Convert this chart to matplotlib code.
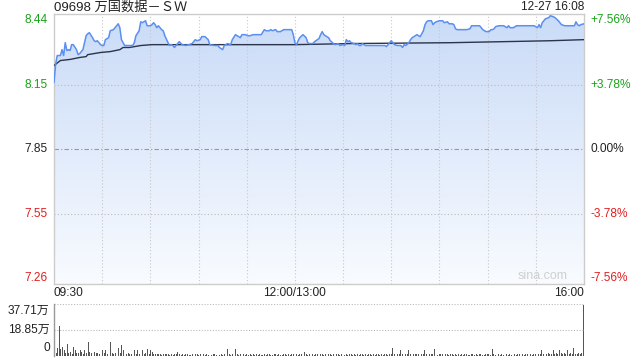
import matplotlib
matplotlib.use("Agg")
import matplotlib.pyplot as plt
import numpy as np
from matplotlib.patches import Polygon

plt.rcParams['font.family'] = ['Liberation Sans', 'Noto Sans CJK SC', 'DejaVu Sans']

title = "09698 万国数据－ＳＷ"
stamp = "12-27 16:08"
prev_close = 7.85

# minute index since 09:30 (trading minutes, lunch removed)
minutes = [0, 1, 2, 4, 5, 6, 7, 8, 9, 10, 11, 12, 14, 15, 16, 18, 20, 21, 22, 24, 25, 26, 27, 29, 30, 31,
           32, 34, 35, 37, 38, 39, 40, 41, 42, 44, 45, 47, 49, 50, 51, 53, 54, 55, 57, 58, 59, 60, 61, 62,
           63, 64, 65, 66, 67, 68, 69, 71, 72, 73, 74, 75, 76, 78, 79, 80, 82, 84, 86, 88, 89, 91, 92, 94,
           96, 97, 100, 102, 103, 105, 106, 108, 110, 111, 113, 114, 115, 116, 117, 119, 121, 122, 124,
           126, 129, 131, 132, 134, 135, 136, 138, 139, 141, 143, 145, 148, 149, 150, 151, 152, 153, 155,
           157, 158, 159, 161, 163, 165, 166, 167, 168, 169, 171, 172, 174, 175, 177, 178, 180, 181, 182,
           183, 184, 185, 187, 188, 189, 190, 191, 192, 193, 194, 198, 201, 206, 207, 208, 210, 211, 212,
           214, 216, 217, 218, 219, 221, 222, 223, 225, 226, 227, 228, 230, 231, 232, 233, 235, 236, 237,
           238, 240, 242, 243, 245, 246, 248, 249, 250, 251, 254, 257, 259, 260, 262, 265, 266, 267, 268,
           269, 271, 272, 273, 274, 275, 277, 279, 280, 282, 283, 284, 286, 288, 290, 293, 296, 299, 301,
           302, 303, 304, 306, 308, 309, 311, 312, 314, 315, 316, 318, 321, 324, 325, 326, 327, 328, 330]
prices = [8.156, 8.239, 8.280, 8.280, 8.307, 8.280, 8.339, 8.303, 8.307, 8.303, 8.330, 8.330, 8.307, 8.284,
          8.289, 8.307, 8.371, 8.380, 8.385, 8.362, 8.348, 8.344, 8.348, 8.330, 8.326, 8.326,
          8.353, 8.362, 8.394, 8.399, 8.408, 8.417, 8.426, 8.408, 8.353, 8.326, 8.326, 8.326, 8.326, 8.339,
          8.371, 8.394, 8.435, 8.431, 8.440, 8.417, 8.417, 8.417, 8.422, 8.431,
          8.422, 8.408, 8.417, 8.408, 8.399, 8.394, 8.371, 8.339, 8.326, 8.330, 8.326, 8.317, 8.326, 8.344,
          8.335, 8.330, 8.326, 8.330, 8.335, 8.353, 8.348, 8.353, 8.367, 8.367,
          8.353, 8.330, 8.326, 8.326, 8.317, 8.307, 8.326, 8.335, 8.330, 8.353, 8.376, 8.371, 8.367, 8.362,
          8.376, 8.376, 8.371, 8.371, 8.376,
          8.376, 8.376, 8.399, 8.394, 8.394, 8.399, 8.394, 8.399, 8.390, 8.390, 8.399, 8.399, 8.399, 8.376,
          8.339, 8.330, 8.348, 8.362, 8.376,
          8.362, 8.339, 8.335, 8.335, 8.348, 8.358, 8.376, 8.390, 8.376, 8.371, 8.362, 8.348, 8.335, 8.330,
          8.335, 8.326, 8.330, 8.326, 8.353,
          8.344, 8.348, 8.339, 8.335, 8.330, 8.335, 8.326, 8.326, 8.335, 8.330, 8.326, 8.326, 8.326, 8.326,
          8.321, 8.330, 8.348, 8.339, 8.330,
          8.326, 8.326, 8.317, 8.330, 8.326, 8.339, 8.353, 8.362, 8.371, 8.376, 8.371, 8.367, 8.394, 8.422,
          8.435, 8.440, 8.440, 8.422, 8.431,
          8.435, 8.440, 8.440, 8.431, 8.435, 8.426, 8.426, 8.422, 8.403, 8.399, 8.399, 8.399, 8.403, 8.417,
          8.417, 8.417, 8.408, 8.399, 8.394,
          8.390, 8.390, 8.399, 8.399, 8.403, 8.413, 8.417, 8.417, 8.417, 8.408, 8.417, 8.408, 8.408, 8.417,
          8.417, 8.417, 8.417, 8.417, 8.408,
          8.422, 8.408, 8.431, 8.449, 8.454, 8.463, 8.458, 8.454, 8.440, 8.431, 8.422, 8.417, 8.417, 8.417,
          8.435, 8.422, 8.417, 8.422, 8.426]

avg_minutes = [0, 4, 10, 16, 20, 21, 29, 35, 41, 43, 47, 54, 61, 120, 150, 185, 247, 309, 330]
avg_prices = [8.234, 8.257, 8.262, 8.271, 8.275, 8.284, 8.294, 8.298, 8.307, 8.317, 8.317, 8.326, 8.330,
              8.330, 8.330, 8.335, 8.339, 8.348, 8.353]

volumes = [15.2, 2.5, 5.8, 21.8, 5.0, 6.5, 4.4, 2.2, 8.7, 2.0,
           3.0, 1.8, 6.5, 4.0, 2.4, 1.9, 4.0, 2.6, 1.7, 4.0,
           2.2, 10.0, 3.0, 2.1, 1.6, 2.8, 1.9, 2.3, 1.5, 2.0,
           4.4, 2.1, 4.0, 1.8, 2.5, 10.0, 2.2, 1.6, 2.0, 4.0,
           6.0, 2.4, 8.0, 4.0, 1.9, 1.5, 2.2, 1.7, 1.4, 2.0,
           4.0, 1.6, 4.0, 1.8, 2.1, 4.0, 1.5, 1.9, 5.0, 1.6,
           4.0, 3.0, 1.4, 1.2, 1.6, 1.1, 1.3, 1.0, 1.5, 1.2,
           1.1, 1.4, 0.9, 1.2, 1.0, 1.3, 1.1, 3.0, 1.4, 1.0,
           1.2, 0.9, 1.1, 1.3, 1.0, 0.8, 1.2, 1.0, 1.4, 1.1,
           0.9, 1.2, 1.0, 1.3, 0.8, 1.1, 1.0, 1.2, 0.9, 1.5,
           1.1, 1.0, 1.3, 0.9, 1.2, 1.0, 1.4, 1.1, 5.0, 1.2,
           1.0, 1.3, 0.9, 5.0, 1.2, 1.0, 1.1, 0.9, 1.3, 1.0,
           1.2, 0.8, 1.1, 1.0, 1.4, 0.9, 1.2, 1.0, 1.1, 0.8,
           1.0, 1.3, 0.9, 1.1, 1.2, 0.8, 1.0, 1.4, 1.1, 0.9,
           1.2, 1.0, 0.8, 1.3, 1.1, 1.0, 1.5, 0.9, 1.2, 1.8,
           1.4, 1.2, 1.0, 1.5, 1.1, 1.3, 3.0, 1.2, 1.0, 1.4,
           1.1, 1.3, 0.9, 1.2, 1.5, 1.0, 1.1, 1.3, 0.9, 1.2,
           1.0, 1.4, 1.1, 0.9, 1.2, 1.0, 1.3, 1.1, 0.8, 1.2,
           1.5, 1.0, 1.2, 0.9, 1.1, 1.3, 1.0, 1.2, 0.9, 1.1,
           1.0, 1.3, 1.1, 0.9, 1.2, 1.0, 1.4, 1.1, 0.9, 1.2,
           1.0, 1.1, 1.3, 0.9, 1.2, 1.0, 1.1, 1.4, 1.0, 1.5,
           1.2, 6.0, 1.3, 1.1, 1.5, 1.2, 4.0, 1.4, 1.0, 1.6,
           1.3, 4.0, 1.2, 1.5, 1.1, 1.3, 1.6, 1.2, 1.0, 1.4,
           1.2, 4.0, 1.5, 1.3, 1.1, 1.4, 1.2, 5.0, 1.3, 1.0,
           1.2, 1.4, 1.1, 1.0, 1.3, 1.2, 0.9, 1.1, 1.3, 1.0,
           1.2, 1.0, 1.1, 0.9, 1.3, 1.0, 1.2, 1.1, 0.8, 1.0,
           1.2, 1.1, 0.9, 1.3, 1.0, 1.2, 1.1, 0.9, 1.0, 1.2,
           1.1, 1.3, 1.0, 5.0, 1.2, 1.0, 1.4, 1.1, 0.9, 1.2,
           1.0, 1.1, 1.3, 0.9, 1.2, 1.0, 1.1, 1.4, 1.0, 1.2,
           1.1, 0.9, 1.3, 1.0, 1.2, 1.5, 1.1, 1.3, 1.0, 1.4,
           1.2, 1.6, 1.3, 1.5, 4.0, 1.8, 7.0, 1.4, 2.0, 1.5,
           1.8, 4.0, 1.6, 2.2, 1.5, 4.0, 1.9, 1.4, 2.1, 1.7,
           4.0, 1.6, 2.0, 1.5, 6.0, 1.8, 1.4, 2.2, 1.6, 1.9,
           37.0]

price_ticks = [8.44, 8.15, 7.85, 7.55, 7.26]
price_tick_labels = ["8.44", "8.15", "7.85", "7.55", "7.26"]
pct_labels = ["+7.56%", "+3.78%", "0.00%", "-3.78%", "-7.56%"]
tick_colors = ["#1aa31a", "#1aa31a", "#222222", "#e02020", "#e02020"]
vol_ticks = [0, 18.85, 37.71]
vol_labels = ["0", "18.85万", "37.71万"]
x_labels = ["09:30", "12:00/13:00", "16:00"]

FS = 8.6

W, H = 640, 360
fig = plt.figure(figsize=(6.4, 3.6), dpi=100)
fig.patch.set_facecolor("white")

ax = fig.add_axes([54 / W, 1 - 284 / H, 530 / W, 270 / H])
vax = fig.add_axes([54 / W, 1 - 356 / H, 530 / W, 52 / H])

step = 0.0046 * 258 / 4
ymax = prev_close + 2 * step + 6 * 0.0046
ymin = prev_close - 2 * step - 6 * 0.0046
ax.set_xlim(0, 330)
ax.set_ylim(ymin, ymax)

x = np.array(minutes, dtype=float)
y = np.array(prices)

# gradient fill under price
grad = np.linspace(0, 1, 256).reshape(-1, 1)
top_c = np.array([0.79, 0.86, 0.97])
bot_c = np.array([0.975, 0.985, 1.0])
img = top_c * (1 - grad[..., None]) + bot_c * grad[..., None]
img = img.reshape(256, 1, 3)
im = ax.imshow(img, extent=[0, 330, ymin, ymax], aspect="auto", origin="upper", zorder=1)
poly = Polygon(np.column_stack([np.r_[x[0], x, x[-1]], np.r_[ymin, y, ymin]]), closed=True,
               facecolor="none", edgecolor="none")
ax.add_patch(poly)
im.set_clip_path(poly)

# grid
pos_ticks = [prev_close + 2 * step, prev_close + step, prev_close, prev_close - step, prev_close - 2 * step]
for t in pos_ticks[1:4]:
    if t == prev_close:
        ax.axhline(t, color="#999999", lw=0.8, ls=(0, (4, 2, 1, 2)), zorder=2)
    else:
        ax.axhline(t, color="#bbbbbb", lw=0.8, ls=(0, (1, 2)), zorder=2)
for k in range(1, 11):
    ax.axvline(k * 30, color="#c8c8c8", lw=0.8, ls=(0, (1, 2)), zorder=2)

ax.plot(x, y, color="#5b8ff0", lw=1.1, zorder=4)
ax.plot(avg_minutes, avg_prices, color="#2b3448", lw=1.0, zorder=3)

ax.set_xticks([])
ax.set_yticks([])
for s in ax.spines.values():
    s.set_color("#cccccc")
    s.set_linewidth(1.0)

for t, lab, pl, c in zip(pos_ticks, price_tick_labels, pct_labels, tick_colors):
    ax.text(-4, t, lab, color=c, fontsize=FS, ha="right", va="center", transform=ax.transData, clip_on=False)
    ax.text(334, t, pl, color=c, fontsize=FS, ha="left", va="center", transform=ax.transData, clip_on=False)

ax.text(0, -0.035, x_labels[0], transform=ax.transAxes, ha="left", va="center", fontsize=FS, color="#222222")
ax.text(150, -0.035, x_labels[1], transform=ax.get_xaxis_transform(), ha="center", va="center", fontsize=FS, color="#222222")
ax.text(1, -0.035, x_labels[2], transform=ax.transAxes, ha="right", va="center", fontsize=FS, color="#222222")

ax.text(0, 1.025, title, transform=ax.transAxes, ha="left", va="center", fontsize=9.5, color="#222222")
ax.text(1, 1.025, stamp, transform=ax.transAxes, ha="right", va="center", fontsize=FS, color="#222222")
ax.text(0.97, 0.028, "sina.com", transform=ax.transAxes, ha="right", va="center", fontsize=9, color="#cfcfcf", zorder=5)

# volume
vx = np.arange(len(volumes))
vax.bar(vx, volumes, width=0.55, color="#555555", linewidth=0)
vax.set_xlim(-0.3, 330.3)
vax.set_ylim(0, 37.71)
vax.set_xticks([])
vax.set_yticks([])
for k in ["top", "right", "bottom"]:
    vax.spines[k].set_visible(False)
vax.spines["left"].set_color("#999999")
vax.spines["left"].set_linewidth(1.0)
vax.axhline(37.71, color="#bbbbbb", lw=0.8, ls=(0, (1, 1.5)))
vax.axhline(18.85, color="#bbbbbb", lw=0.8, ls=(0, (1, 1.5)))
label_offsets = {0: 5.8, 18.85: 0.0, 37.71: -5.1}
for t, lab in zip(vol_ticks, vol_labels):
    yy = t + label_offsets[t]
    vax.text(-3, yy, lab, ha="right", va="center", fontsize=FS, color="#222222", clip_on=False,
             family=['Liberation Sans', 'Noto Sans CJK SC'])

fig.savefig("out.png", dpi=100)
